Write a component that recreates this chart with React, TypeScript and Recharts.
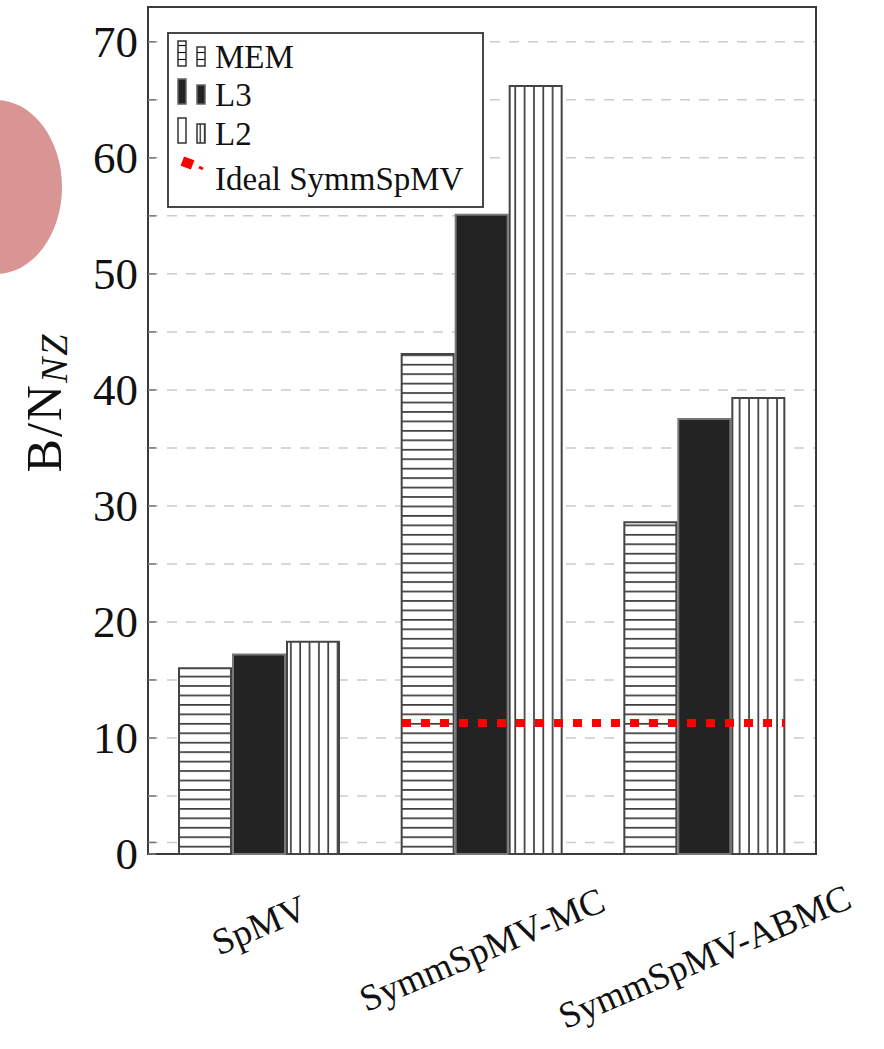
import React from 'react';
import {
  ComposedChart,
  Bar,
  XAxis,
  YAxis,
  CartesianGrid,
  ReferenceLine,
  ReferenceArea,
} from 'recharts';

// ---------- data ----------
const categories = ['SpMV', 'SymmSpMV-MC', 'SymmSpMV-ABMC'];
const memValues = [16.0, 43.1, 28.6];
const l3Values = [17.2, 55.1, 37.5];
const l2Values = [18.3, 66.2, 39.3];
const seriesNames = ['MEM', 'L3', 'L2'];
const idealName = 'Ideal SymmSpMV';
const idealValue = 11.3;
const idealCategories = ['SymmSpMV-MC', 'SymmSpMV-ABMC'];
const yTickLabels = [0, 10, 20, 30, 40, 50, 60, 70];
const yGridValues = [0, 1, 5, 10, 15, 20, 25, 30, 35, 40, 45, 50, 55, 60, 65, 70];
const yMax = 73;

const data = categories.map((c, i) => ({
  category: c,
  pos: i + 0.5,
  MEM: memValues[i],
  L3: l3Values[i],
  L2: l2Values[i],
}));

// ---------- layout ----------
const W = 884;
const H = 1049;
const LEFT_W = 148;
const RIGHT_W = 68;
const XAXIS_H = 120;
const MARGIN = { top: 7, right: 0, bottom: 75, left: 0 };
const BAR_SIZE = 52;
const BAR_GAP = 2;
const FONT = '"Liberation Serif", "Times New Roman", serif';

const plotW = W - LEFT_W - RIGHT_W;
const bandPx = plotW / categories.length;
const groupHalf = (3 * BAR_SIZE + 2 * BAR_GAP) / 2 / bandPx;
const idealX1 = categories.indexOf(idealCategories[0]) + 0.5 - groupHalf;
const idealX2 = categories.indexOf(idealCategories[1]) + 0.5 + groupHalf;

const LeftTick = (props: any) => {
  const { x, y, payload } = props;
  const show = yTickLabels.includes(payload.value);
  return (
    <g>
      <line x1={x} x2={x + 8} y1={y} y2={y} stroke="#777" strokeWidth={1.5} />
      {show && (
        <text
          x={x - 10}
          y={y}
          textAnchor="end"
          dominantBaseline="central"
          fontFamily={FONT}
          fontSize={45}
          fill="#111"
        >
          {payload.value}
        </text>
      )}
    </g>
  );
};

const RightTick = (props: any) => {
  const { x, y } = props;
  return <line x1={x - 8} x2={x} y1={y} y2={y} stroke="#777" strokeWidth={1.5} />;
};

const XTick = (props: any) => {
  const { x, y, payload } = props;
  const label = String(payload.value);
  const cy = y + 57 + 3.5 * label.length;
  return (
    <text
      x={x}
      y={cy}
      transform={`rotate(-23, ${x}, ${cy})`}
      textAnchor="middle"
      dominantBaseline="central"
      fontFamily={FONT}
      fontSize={37}
      fill="#111"
    >
      {label}
    </text>
  );
};

const YLabel = (props: any) => {
  const vb = props.viewBox;
  const cx = vb.x + 44;
  const cy = vb.y + vb.height / 2 - 28;
  return (
    <text
      x={cx}
      y={cy}
      transform={`rotate(-90, ${cx}, ${cy})`}
      textAnchor="middle"
      dominantBaseline="central"
      fontFamily={FONT}
      fontSize={50}
      letterSpacing={2}
      fill="#111"
    >
      B/N
      <tspan fontSize={38} fontStyle="italic" dy={10}>
        NZ
      </tspan>
    </text>
  );
};

const Patterns = () => (
  <defs>
    <pattern id="hlines" patternUnits="userSpaceOnUse" width={10} height={9.45}>
      <rect width={10} height={9.45} fill="#fff" />
      <line x1={0} x2={10} y1={5.6} y2={5.6} stroke="#111" strokeWidth={1.4} />
    </pattern>
    <pattern id="vlines" patternUnits="userSpaceOnUse" width={9.35} height={10}>
      <rect width={9.35} height={10} fill="#fff" />
      <line x1={1} x2={1} y1={0} y2={10} stroke="#111" strokeWidth={1.4} />
    </pattern>
  </defs>
);

const Overlay = () => {
  const rows = [
    { name: seriesNames[0], base: 66, fill: 'url(#hlines)', stroke: '#333' },
    { name: seriesNames[1], base: 104, fill: '#232323', stroke: '#666' },
    { name: seriesNames[2], base: 143, fill: 'url(#vlines)', stroke: '#333' },
  ];
  return (
    <svg
      width={W}
      height={H}
      style={{ position: 'absolute', left: 0, top: 0, pointerEvents: 'none' }}
    >
      <defs>
        <pattern id="hlinesL" patternUnits="userSpaceOnUse" width={10} height={7}>
          <rect width={10} height={7} fill="#fff" />
          <line x1={0} x2={10} y1={3.5} y2={3.5} stroke="#111" strokeWidth={1.2} />
        </pattern>
        <pattern id="vlinesL" patternUnits="userSpaceOnUse" width={4.5} height={10}>
          <rect width={4.5} height={10} fill="#fff" />
          <line x1={2.2} x2={2.2} y1={0} y2={10} stroke="#111" strokeWidth={1.2} />
        </pattern>
      </defs>
      <ellipse cx={-4} cy={187} rx={66} ry={87} fill="#d99494" />
      <rect x={168} y={33} width={315} height={174} fill="#fff" stroke="#333" strokeWidth={1.8} />
      {rows.map((r, i) => (
        <g key={r.name}>
          <rect
            x={178}
            y={r.base - 25}
            width={8}
            height={25}
            fill={i === 0 ? 'url(#hlinesL)' : i === 2 ? '#fff' : r.fill}
            stroke={r.stroke}
            strokeWidth={1.5}
          />
          <rect
            x={197}
            y={r.base - 19}
            width={8}
            height={19}
            fill={i === 0 ? 'url(#hlinesL)' : i === 2 ? 'url(#vlinesL)' : r.fill}
            stroke={r.stroke}
            strokeWidth={1.5}
          />
          <text x={215} y={r.base + 2} fontFamily={FONT} fontSize={33} fill="#111">
            {r.name}
          </text>
        </g>
      ))}
      <rect x={182} y={158} width={11} height={10} fill="#ff0000" transform="rotate(20, 187.5, 163)" />
      <line x1={199} y1={167} x2={203} y2={169} stroke="#ff0000" strokeWidth={3} />
      <text x={215} y={190} fontFamily={FONT} fontSize={33} fill="#111">
        {idealName}
      </text>
    </svg>
  );
};

export default function App() {
  return (
    <div style={{ position: 'absolute', left: 0, top: 0, width: W, height: H, background: '#fff' }}>
      <ComposedChart
        width={W}
        height={H}
        data={data}
        margin={MARGIN}
        barGap={BAR_GAP}
        barSize={BAR_SIZE}
      >
        <Patterns />
        <CartesianGrid
          xAxisId="cat"
          yAxisId="l"
          vertical={false}
          stroke="#cccccc"
          strokeWidth={1.5}
          strokeDasharray="10 9"
        />
        <XAxis
          xAxisId="cat"
          dataKey="category"
          height={XAXIS_H}
          axisLine={false}
          tickLine={false}
          tickSize={0}
          tickMargin={0}
          interval={0}
          tick={<XTick />}
        />
        <XAxis
          xAxisId="num"
          dataKey="pos"
          type="number"
          domain={[0, categories.length]}
          allowDataOverflow
          hide
        />
        <YAxis
          yAxisId="l"
          width={LEFT_W}
          domain={[0, yMax]}
          ticks={yGridValues}
          interval={0}
          axisLine={false}
          tickLine={false}
          tickSize={0}
          tickMargin={0}
          tick={<LeftTick />}
          label={{ content: <YLabel /> }}
        />
        <YAxis
          yAxisId="r"
          orientation="right"
          width={RIGHT_W}
          domain={[0, yMax]}
          ticks={yGridValues}
          interval={0}
          axisLine={false}
          tickLine={false}
          tickSize={0}
          tickMargin={0}
          tick={<RightTick />}
        />
        <Bar
          xAxisId="cat"
          yAxisId="l"
          dataKey="MEM"
          fill="url(#hlines)"
          stroke="#444"
          strokeWidth={2}
          isAnimationActive={false}
        />
        <Bar
          xAxisId="cat"
          yAxisId="l"
          dataKey="L3"
          fill="#232323"
          stroke="#777"
          strokeWidth={2}
          isAnimationActive={false}
        />
        <Bar
          xAxisId="cat"
          yAxisId="l"
          dataKey="L2"
          fill="url(#vlines)"
          stroke="#444"
          strokeWidth={2}
          isAnimationActive={false}
        />
        <ReferenceLine
          xAxisId="num"
          yAxisId="l"
          segment={[
            { x: idealX1, y: idealValue },
            { x: idealX2, y: idealValue },
          ]}
          stroke="#ff0000"
          strokeWidth={8}
          strokeDasharray="9 10"
          ifOverflow="visible"
        />
        <ReferenceArea
          xAxisId="num"
          yAxisId="l"
          x1={0}
          x2={categories.length}
          y1={0}
          y2={yMax}
          fill="none"
          fillOpacity={0}
          stroke="#3a3a3a"
          strokeWidth={2}
          ifOverflow="visible"
        />
      </ComposedChart>
      <Overlay />
    </div>
  );
}
